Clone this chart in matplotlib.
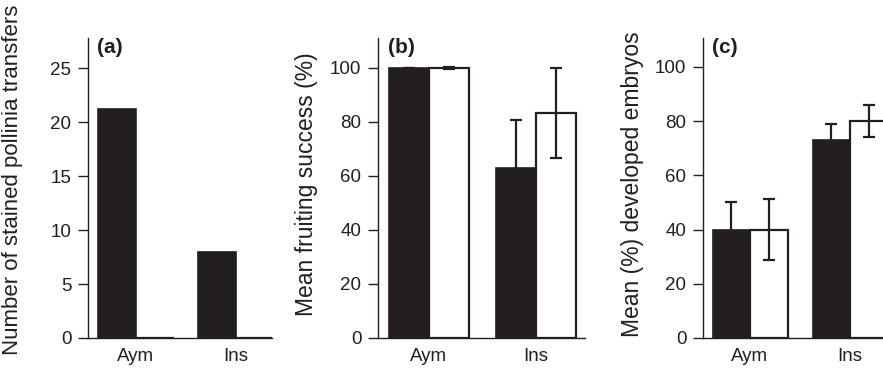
import matplotlib
matplotlib.use("Agg")
import matplotlib.pyplot as plt
import numpy as np

plt.rcParams['font.family'] = ['Liberation Sans', 'DejaVu Sans']

groups = ["Aym", "Ins"]

# (a) number of stained pollinia transfers
a_black = [21.2, 8.0]
a_white = [0, 0]

# (b) mean fruiting success (%)
b_black = [100, 62.8]
b_black_err = [0, 18]
b_white = [100, 83.3]
b_white_err = [0.3, 16.7]

# (c) mean (%) developed embryos
c_black = [40, 73]
c_black_err = [10.3, 6]
c_white = [40, 80]
c_white_err = [11.1, 6]

ink = "#231f20"
W, H = 883, 370
fig = plt.figure(figsize=(W / 100, H / 100), dpi=100)


def px_axes(left, right, bottom=338, top=38):
    return fig.add_axes([left / W, (H - bottom) / H, (right - left) / W, (bottom - top) / H])


def style(ax, ylim, yticks, xlim, label, tag, label_x, label_y=184, label_size=16.5):
    ax.set_xlim(*xlim)
    ax.set_ylim(*ylim)
    ax.set_yticks(yticks)
    ax.set_xticks([0, 1])
    ax.set_xticklabels(groups)
    for s in ["top", "right"]:
        ax.spines[s].set_visible(False)
    for s in ["left", "bottom"]:
        ax.spines[s].set_color(ink)
        ax.spines[s].set_linewidth(1.0)
    ax.tick_params(axis="y", direction="out", length=7, width=1, colors=ink,
                   labelsize=13.5, pad=5)
    ax.tick_params(axis="x", length=0, labelsize=13.5, colors=ink, pad=7)
    ax.text(0.05, 1.0, tag, transform=ax.transAxes, ha="left", va="top",
            fontsize=15, fontweight="bold", color=ink)
    fig.text(label_x / W, 1 - label_y / H, label, rotation=90, ha="center",
             va="center", fontsize=label_size, color=ink)


def pair(ax, w, black, white, berr=None, werr=None):
    x = np.arange(len(groups))
    ax.bar(x - w / 2, black, w, color=ink, edgecolor=ink, linewidth=1.2, zorder=2)
    ax.bar(x + w / 2, white, w, color="white", edgecolor=ink, linewidth=1.6, zorder=2)
    ek = dict(fmt="none", ecolor=ink, elinewidth=1.6, capsize=4, capthick=1.6, zorder=3)
    if berr is not None:
        ax.errorbar(x - w / 2, black, yerr=berr, **ek)
    if werr is not None:
        ax.errorbar(x + w / 2, white, yerr=werr, **ek)


# panel a
ax1 = px_axes(88, 272)
pair(ax1, 0.38, a_black, a_white)
style(ax1, (0, 27.8), [0, 5, 10, 15, 20, 25], (-0.48, 1.36),
      "Number of stained pollinia transfers", "(a)", 13, label_y=180, label_size=16)

# panel b
ax2 = px_axes(378, 585)
pair(ax2, 0.374, b_black, b_white, b_black_err, b_white_err)
style(ax2, (0, 111.1), [0, 20, 40, 60, 80, 100], (-0.477, 1.458),
      "Mean fruiting success (%)", "(b)", 307)

# panel c
ax3 = px_axes(703, 890)
pair(ax3, 0.375, c_black, c_white, c_black_err, c_white_err)
style(ax3, (0, 110.6), [0, 20, 40, 60, 80, 100], (-0.47, 1.40),
      "Mean (%) developed embryos", "(c)", 632)

fig.savefig("out.png", dpi=100)
